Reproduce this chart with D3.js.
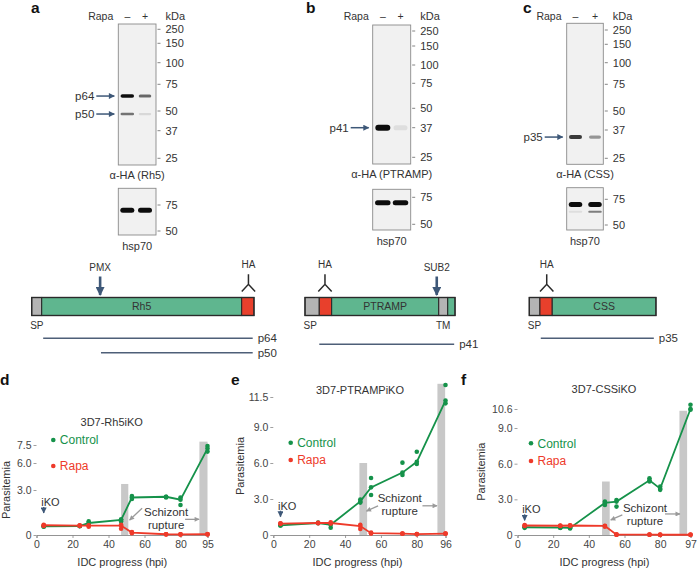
<!DOCTYPE html>
<html><head><meta charset="utf-8">
<script src="https://cdn.jsdelivr.net/npm/d3@7"></script>
<style>
body{margin:0;background:#fff}
svg{display:block}
text{font-family:"Liberation Sans",Arial,sans-serif}
</style>
</head><body>
<svg id="c" width="697" height="570"></svg>
<script>
// ================= DATA =================
// Western blots
const blotLanes = ["–", "+"];
const ladderKDa = [250, 150, 100, 75, 50, 37, 25];
const hspLadderKDa = [75, 50];
const rh5BandNames = ["p64", "p50"];
const rh5BandKDa = [64, 48];
const rh5Minus = [1.0, 0.55];
const rh5Plus = [0.6, 0.1];
const ptrampBandNames = ["p41"];
const ptrampBandKDa = [37];
const ptrampMinus = [1.0];
const ptrampPlus = [0.08];
const cssBandNames = ["p35"];
const cssBandKDa = [34];
const cssMinus = [0.8];
const cssPlus = [0.4];
const hspBandKDa = [70, 63];
const hspMinusA = [1.0, 0], hspPlusA = [1.0, 0];
const hspMinusB = [1.0, 0], hspPlusB = [1.0, 0];
const hspMinusC = [1.0, 0.08], hspPlusC = [1.0, 0.5];

// Protein schematics (residues)
const rh5Length = 523;
const rh5Segments = [["sp", 0, 23.5], ["body", 23.5, 494], ["ha", 494, 523]];
const rh5Cleavage = ["PMX", 161];
const rh5Tag = 510;
const rh5Products = [["p64", 27, 520], ["p50", 163, 520]];
const ptrampLength = 353;
const ptrampSegments = [["sp", 0, 33.6], ["ha", 33.6, 62.7], ["body", 62.7, 314.6], ["tm", 314.6, 335.8], ["body", 335.8, 353]];
const ptrampCleavage = ["SUB2", 310];
const ptrampTag = 47;
const ptrampProducts = [["p41", 33.6, 351]];
const cssLength = 298;
const cssSegments = [["sp", 0, 25], ["ha", 25, 54], ["body", 54, 298]];
const cssTag = 41;
const cssProducts = [["p35", 27, 293]];

// Growth curves (parasitemia %, triplicates)
const hpiD = [4, 24, 29, 47, 53, 72, 80, 95];
const ctrlD1 = [0.6, 0.6, 0.92, 1.05, 2.6, 2.55, 2.5, 7.42];
const ctrlD2 = [0.57, 0.6, 0.8, 1.0, 2.5, 2.55, 2.35, 7.2];
const ctrlD3 = [0.55, 0.58, 0.73, 0.9, 2.4, 2.5, 2.0, 6.95];
const rapaD1 = [0.68, 0.65, 0.65, 0.68, 0.2, 0.05, 0.05, 0.06];
const rapaD2 = [0.65, 0.63, 0.62, 0.63, 0.16, 0.05, 0.04, 0.05];
const rapaD3 = [0.6, 0.6, 0.55, 0.42, 0.12, 0.04, 0.03, 0.04];
const barsD = [[47, 51, 3.67], [90.5, 95, 7.78]];
const xTicksD = [0, 20, 40, 60, 80, 95];
const yTicksD = [0, 3.0, 6.0, 7.5];

const hpiE = [4, 25, 32, 48.5, 54.5, 72, 80, 96];
const ctrlE1 = [0.85, 1.03, 0.95, 2.95, 4.75, 6.03, 6.94, 12.5];
const ctrlE2 = [0.8, 1.0, 0.85, 2.8, 3.97, 5.2, 6.1, 11.2];
const ctrlE3 = [0.8, 0.98, 0.6, 2.7, 3.33, 5.0, 5.92, 10.97];
const rapaE1 = [0.97, 1.02, 1.05, 0.85, 0.2, 0.13, 0.08, 0.13];
const rapaE2 = [0.95, 1.0, 1.0, 0.75, 0.15, 0.12, 0.07, 0.12];
const rapaE3 = [0.93, 0.98, 0.95, 0.5, 0.13, 0.1, 0.06, 0.1];
const barsE = [[48, 52.3, 6.0], [91.5, 95.8, 12.6]];
const xTicksE = [0, 20, 40, 60, 80, 96];
const yTicksE = [0, 3.0, 6.0, 9.0, 11.5];

const hpiF = [4, 24, 29.5, 49, 55.5, 74, 80, 97];
const ctrlF1 = [0.7, 0.63, 0.62, 2.81, 2.95, 4.78, 4.07, 10.96];
const ctrlF2 = [0.65, 0.62, 0.6, 2.7, 2.81, 4.6, 3.9, 10.6];
const ctrlF3 = [0.6, 0.6, 0.55, 2.53, 2.39, 4.5, 3.8, 10.54];
const rapaF1 = [0.84, 0.8, 0.82, 0.78, 0.05, 0.04, 0.03, 0.03];
const rapaF2 = [0.8, 0.78, 0.8, 0.76, 0.03, 0.03, 0.02, 0.02];
const rapaF3 = [0.76, 0.76, 0.78, 0.7, 0.02, 0.02, 0.01, 0.02];
const barsF = [[47.4, 51.7, 4.5], [90.8, 95.1, 10.45]];
const xTicksF = [0, 20, 40, 60, 80, 97];
const yTicksF = [0, 3.0, 6.0, 9.0, 10.6];

const seriesNames = ["Control", "Rapa"];
const chartTitles = ["3D7-Rh5iKO", "3D7-PTRAMPiKO", "3D7-CSSiKO"];

// ================= DRAWING =================
const svg = d3.select("#c");
const TXT = "#333";
const ARROW = "#3e5878";
const GREEN = "#15924a", RED = "#ee3a2a";
const SEG = {sp: "#b4b4b4", body: "#5fb68f", ha: "#e8402c", tm: "#b4b4b4"};

const defs = svg.append("defs");
defs.append("filter").attr("id", "blur").attr("x", "-30%").attr("y", "-100%").attr("width", "160%").attr("height", "300%")
  .append("feGaussianBlur").attr("stdDeviation", 0.7);
function headMarker(id, color, w, h) {
  defs.append("marker").attr("id", id).attr("viewBox", "0 0 10 10").attr("refX", 9).attr("refY", 5)
    .attr("markerWidth", w).attr("markerHeight", h).attr("orient", "auto").attr("markerUnits", "userSpaceOnUse")
    .append("path").attr("d", "M0,0L10,5L0,10z").attr("fill", color);
}
headMarker("ahBlue", ARROW, 7, 6);
headMarker("ahGray", "#9a9a9a", 6, 5);
headMarker("ahBig", ARROW, 9, 9);

// panel letters
[["a", 31, 13], ["b", 306, 13], ["c", 523, 13], ["d", 0, 385], ["e", 231, 385], ["f", 461, 385]].forEach(([t, x, y]) =>
  svg.append("text").attr("x", x).attr("y", y).attr("font-size", 15.5).attr("font-weight", "bold").attr("fill", "#111").text(t));

// ---- blots ----
const blotLayouts = [
  {x0: 118.3, x1: 156, y0: 24, y1: 165, ladder: [29.3, 43.3, 62.7, 84.3, 111, 130.7, 158.3], lanes: [127.3, 145], lw: 13.5,
   hy0: 188.3, hy1: 235, hladder: [205, 231], label: "α-HA (Rh5)", names: rh5BandNames, kda: rh5BandKDa, minus: rh5Minus, plus: rh5Plus, bh: [3.6, 2.6],
   hminus: hspMinusA, hplus: hspPlusA},
  {x0: 372.7, x1: 410.7, y0: 25, y1: 164, ladder: [31, 46, 65, 83.3, 108.3, 127.7, 157.3], lanes: [382.8, 400.5], lw: 15,
   hy0: 189.3, hy1: 230, hladder: [197.3, 224.3], label: "α-HA (PTRAMP)", names: ptrampBandNames, kda: ptrampBandKDa, minus: ptrampMinus, plus: ptrampPlus, bh: [6],
   hminus: hspMinusB, hplus: hspPlusB},
  {x0: 566.7, x1: 603.3, y0: 23.3, y1: 164.3, ladder: [30, 44.3, 62.7, 84.3, 111, 130, 158.3], lanes: [575.5, 595], lw: 13,
   hy0: 187.7, hy1: 230, hladder: [199.3, 225], label: "α-HA (CSS)", names: cssBandNames, kda: cssBandKDa, minus: cssMinus, plus: cssPlus, bh: [4],
   hminus: hspMinusC, hplus: hspPlusC}
];

function drawBand(g, cx, y, w, h, inten) {
  if (inten <= 0) return;
  g.append("rect").attr("x", cx - w / 2).attr("y", y - h / 2).attr("width", w).attr("height", h)
    .attr("rx", h / 2).attr("fill", "#111").attr("opacity", Math.min(1, inten)).attr("filter", "url(#blur)");
}

blotLayouts.forEach(L => {
  const g = svg.append("g");
  const ky = d3.scaleLinear().domain(ladderKDa).range(L.ladder);
  const hy = d3.scaleLinear().domain(hspLadderKDa).range(L.hladder);
  // header
  g.append("text").attr("x", L.lanes[0] - 14).attr("y", 19.5).attr("text-anchor", "end").attr("font-size", 10.5).attr("fill", TXT).text("Rapa");
  blotLanes.forEach((t, i) => g.append("text").attr("x", L.lanes[i]).attr("y", 19.5).attr("text-anchor", "middle").attr("font-size", 10.5).attr("fill", TXT).text(t));
  g.append("text").attr("x", L.x1 + 9.5).attr("y", 19.5).attr("font-size", 11).attr("fill", TXT).text("kDa");
  // main membrane
  g.append("rect").attr("x", L.x0).attr("y", L.y0).attr("width", L.x1 - L.x0).attr("height", L.y1 - L.y0)
    .attr("fill", "#f1f1f1").attr("stroke", "#8a8a8a").attr("stroke-width", 0.9);
  L.kda.forEach((k, i) => {
    drawBand(g, L.lanes[0], ky(k), L.lw, L.bh[i], L.minus[i]);
    drawBand(g, L.lanes[1], ky(k), L.lw - 1, L.bh[i] * 0.85, L.plus[i]);
    const arrX1 = L.x0 - 4, arrX0 = L.x0 - 22;
    g.append("line").attr("x1", arrX0).attr("x2", arrX1).attr("y1", ky(k)).attr("y2", ky(k))
      .attr("stroke", ARROW).attr("stroke-width", 1.5).attr("marker-end", "url(#ahBlue)");
    g.append("text").attr("x", L.x0 - 24).attr("y", ky(k)).attr("dy", "0.36em").attr("text-anchor", "end")
      .attr("font-size", 11.5).attr("fill", TXT).text(L.names[i]);
  });
  ladderKDa.forEach(k => {
    g.append("line").attr("x1", L.x1 + 1.5).attr("x2", L.x1 + 4.5).attr("y1", ky(k)).attr("y2", ky(k)).attr("stroke", "#666").attr("stroke-width", 0.8);
    g.append("text").attr("x", L.x1 + 9.5).attr("y", ky(k)).attr("dy", "0.36em").attr("font-size", 11).attr("fill", TXT).text(k);
  });
  g.append("text").attr("x", (L.x0 + L.x1) / 2).attr("y", L.y1 + 10).attr("dy", "0.36em").attr("text-anchor", "middle")
    .attr("font-size", 11).attr("fill", TXT).text(L.label);
  // hsp70
  g.append("rect").attr("x", L.x0).attr("y", L.hy0).attr("width", L.x1 - L.x0).attr("height", L.hy1 - L.hy0)
    .attr("fill", "#f1f1f1").attr("stroke", "#8a8a8a").attr("stroke-width", 0.9);
  hspBandKDa.forEach((k, i) => {
    const h = i === 0 ? 5 : 2;
    drawBand(g, L.lanes[0], hy(k), L.lw + 0.5, h, L.hminus[i]);
    drawBand(g, L.lanes[1], hy(k), L.lw + 0.5, h, L.hplus[i]);
  });
  hspLadderKDa.forEach(k => {
    g.append("line").attr("x1", L.x1 + 1.5).attr("x2", L.x1 + 4.5).attr("y1", hy(k)).attr("y2", hy(k)).attr("stroke", "#666").attr("stroke-width", 0.8);
    g.append("text").attr("x", L.x1 + 9.5).attr("y", hy(k)).attr("dy", "0.36em").attr("font-size", 11).attr("fill", TXT).text(k);
  });
  g.append("text").attr("x", (L.x0 + L.x1) / 2).attr("y", L.hy1 + 11.5).attr("dy", "0.36em").attr("text-anchor", "middle")
    .attr("font-size", 11).attr("fill", TXT).text("hsp70");
});

// ---- protein schematics ----
const aa = d3.scaleLinear().domain([0, 100]).range([0, 42.5]);
const proteins = [
  {x: 31.7, len: rh5Length, segs: rh5Segments, name: "Rh5", cleave: rh5Cleavage, tag: rh5Tag, prods: rh5Products, prodY: [338.3, 352.7]},
  {x: 305, len: ptrampLength, segs: ptrampSegments, name: "PTRAMP", cleave: ptrampCleavage, tag: ptrampTag, prods: ptrampProducts, prodY: [344.3]},
  {x: 529.3, len: cssLength, segs: cssSegments, name: "CSS", cleave: null, tag: cssTag, prods: cssProducts, prodY: [338.3]}
];
const barY = 297.5, barH = 18;
proteins.forEach(P => {
  const g = svg.append("g");
  const px = r => P.x + aa(r);
  P.segs.forEach(s => {
    g.append("rect").attr("x", px(s[1])).attr("y", barY).attr("width", aa(s[2] - s[1])).attr("height", barH)
      .attr("fill", SEG[s[0]]).attr("stroke", "#2a2a2a").attr("stroke-width", 1.1);
  });
  g.append("rect").attr("x", px(0)).attr("y", barY).attr("width", aa(P.len)).attr("height", barH)
    .attr("fill", "none").attr("stroke", "#2a2a2a").attr("stroke-width", 1.3);
  const body = P.segs.filter(s => s[0] === "body").reduce((a, b) => (b[2] - b[1] > a[2] - a[1] ? b : a));
  g.append("text").attr("x", px((body[1] + body[2]) / 2)).attr("y", barY + barH / 2).attr("dy", "0.36em")
    .attr("text-anchor", "middle").attr("font-size", 10.5).attr("fill", "#333").text(P.name);
  g.append("text").attr("x", px(0) - 1.5).attr("y", 328.5).attr("font-size", 10).attr("fill", "#333").text("SP");
  const tm = P.segs.find(s => s[0] === "tm");
  if (tm) g.append("text").attr("x", px((tm[1] + tm[2]) / 2)).attr("y", 328.5).attr("text-anchor", "middle").attr("font-size", 10).attr("fill", "#333").text("TM");
  // HA tag
  const hx = px(P.tag);
  g.append("path").attr("d", `M${hx},274.3V284.3M${hx - 6.7},291.5L${hx},284.3L${hx + 6.7},291.5`)
    .attr("fill", "none").attr("stroke", "#2a2a2a").attr("stroke-width", 1.5);
  g.append("text").attr("x", hx).attr("y", 268.3).attr("text-anchor", "middle").attr("font-size", 10).attr("fill", "#333").text("HA");
  // cleavage
  if (P.cleave) {
    const cx = px(P.cleave[1]);
    g.append("line").attr("x1", cx).attr("x2", cx).attr("y1", 276.5).attr("y2", 295).attr("stroke", ARROW).attr("stroke-width", 2.6).attr("marker-end", "url(#ahBig)");
    g.append("text").attr("x", cx).attr("y", 271).attr("text-anchor", "middle").attr("font-size", 10).attr("fill", "#333").text(P.cleave[0]);
  }
  P.prods.forEach((p, i) => {
    g.append("line").attr("x1", px(p[1])).attr("x2", px(p[2])).attr("y1", P.prodY[i]).attr("y2", P.prodY[i])
      .attr("stroke", "#4e5f78").attr("stroke-width", 1.5);
    g.append("text").attr("x", px(p[2]) + 5).attr("y", P.prodY[i]).attr("dy", "0.36em").attr("font-size", 11.5).attr("fill", "#333").text(p[0]);
  });
});

// ---- growth curves ----
const charts = [
  {hpi: hpiD, ctrl: [ctrlD1, ctrlD2, ctrlD3], rapa: [rapaD1, rapaD2, rapaD3], bars: barsD, xTicks: xTicksD, yTicks: yTicksD,
   title: chartTitles[0], xMax: 95, xr: [36.5, 207.5], yDom: [0, 3, 6, 7.5], yRng: [535, 490, 463, 445],
   titleXY: [111.7, 421.7], ylabY: 490, ylabX: 6, xlabX: 122.3, leg: [53.3, 440, 466],
   iko: 2.2, ann: {x: 72, y: 1.55, l: [-24, -3.5, -36.5, 8.3], r: [19, 7.6, 33, 7.6]}},
  {hpi: hpiE, ctrl: [ctrlE1, ctrlE2, ctrlE3], rapa: [rapaE1, rapaE2, rapaE3], bars: barsE, xTicks: xTicksE, yTicks: yTicksE,
   title: chartTitles[1], xMax: 96, xr: [273.3, 445.5], yDom: [0, 11.5], yRng: [535, 397],
   titleXY: [360, 390], ylabY: 466, ylabX: 240, xlabX: 357.5, leg: [290.7, 442.7, 460],
   iko: 2.44, ann: {x: 70.5, y: 3.1, l: [-21.7, 8, -33.3, 13.3], r: [22.7, 8, 37.3, 8]}},
  {hpi: hpiF, ctrl: [ctrlF1, ctrlF2, ctrlF3], rapa: [rapaF1, rapaF2, rapaF3], bars: barsF, xTicks: xTicksF, yTicks: yTicksF,
   title: chartTitles[2], xMax: 97, xr: [517.5, 690.5], yDom: [0, 10.6], yRng: [535, 409],
   titleXY: [604, 389.3], ylabY: 471.7, ylabX: 480.7, xlabX: 604.5, leg: [531, 443.3, 461],
   iko: 2.16, ann: {x: 71.5, y: 2.3, l: [-22.7, 7.3, -34.3, 12.3], r: [20, 6.3, 35, 6.3]}}
];

charts.forEach(C => {
  const g = svg.append("g");
  const x = d3.scaleLinear().domain([0, C.xMax]).range(C.xr);
  const y = d3.scaleLinear().domain(C.yDom).range(C.yRng);
  // rupture bars
  g.selectAll(".rb").data(C.bars).join("rect")
    .attr("x", d => x(d[0])).attr("width", d => x(d[1]) - x(d[0]))
    .attr("y", d => y(d[2])).attr("height", d => y(0) - y(d[2])).attr("fill", "#c8c8c8");
  // axes
  const xa = g.append("g").attr("transform", `translate(0,${y(0)})`)
    .call(d3.axisBottom(x).tickValues(C.xTicks).tickSize(3).tickPadding(3).tickFormat(d3.format("d")));
  const ya = g.append("g").attr("transform", `translate(${C.xr[0]},0)`)
    .call(d3.axisLeft(y).tickValues(C.yTicks).tickSize(3).tickPadding(2).tickFormat(d => d === 0 ? "0" : d.toFixed(1)));
  ya.select(".domain").remove();
  [xa, ya].forEach(a => {
    a.selectAll(".domain").attr("stroke", "#888").attr("stroke-width", 0.9);
    a.selectAll(".tick line").attr("stroke", "#888").attr("stroke-width", 0.8);
    a.selectAll(".tick text").attr("fill", "#444").attr("font-size", 10.5).attr("font-family", "Liberation Sans, Arial, sans-serif");
  });
  // labels
  g.append("text").attr("x", C.titleXY[0]).attr("y", C.titleXY[1]).attr("dy", "0.36em").attr("text-anchor", "middle")
    .attr("font-size", 11).attr("fill", TXT).text(C.title);
  g.append("text").attr("transform", `translate(${C.ylabX},${C.ylabY}) rotate(-90)`).attr("dy", "0.36em")
    .attr("text-anchor", "middle").attr("font-size", 11).attr("fill", TXT).text("Parasitemia");
  g.append("text").attr("x", C.xlabX).attr("y", 561.7).attr("dy", "0.36em").attr("text-anchor", "middle")
    .attr("font-size", 11).attr("fill", TXT).text("IDC progress (hpi)");
  // annotation
  const ax = x(C.ann.x), ay = y(C.ann.y);
  g.append("text").attr("x", ax).attr("y", ay).attr("dy", "0.36em").attr("text-anchor", "middle").attr("font-size", 11.5).attr("fill", TXT).text("Schizont");
  g.append("text").attr("x", ax).attr("y", ay + 12.8).attr("dy", "0.36em").attr("text-anchor", "middle").attr("font-size", 11.5).attr("fill", TXT).text("rupture");
  const l = C.ann.l, r = C.ann.r;
  g.append("line").attr("x1", ax + l[0]).attr("y1", ay + l[1]).attr("x2", ax + l[2]).attr("y2", ay + l[3])
    .attr("stroke", "#9a9a9a").attr("stroke-width", 1.3).attr("marker-end", "url(#ahGray)");
  g.append("line").attr("x1", ax + r[0]).attr("y1", ay + r[1]).attr("x2", ax + r[2]).attr("y2", ay + r[3])
    .attr("stroke", "#9a9a9a").attr("stroke-width", 1.3).attr("marker-end", "url(#ahGray)");
  // iKO
  const ix = x(C.hpi[0]), iy = y(C.iko);
  g.append("text").attr("x", ix - 2.5).attr("y", iy).attr("dy", "0.36em").attr("font-size", 11).attr("fill", TXT).text("iKO");
  g.append("line").attr("x1", ix).attr("x2", ix).attr("y1", iy + 5).attr("y2", iy + 11)
    .attr("stroke", ARROW).attr("stroke-width", 1.4).attr("marker-end", "url(#ahBlue)");
  // series
  [[C.ctrl, GREEN], [C.rapa, RED]].forEach(([reps, col]) => {
    const med = C.hpi.map((h, i) => d3.median(reps, r => r[i]));
    g.append("path").datum(med).attr("fill", "none").attr("stroke", col).attr("stroke-width", 1.8)
      .attr("d", d3.line().x((d, i) => x(C.hpi[i])).y(d => y(d)));
    reps.forEach(rep => {
      g.selectAll(null).data(rep).join("circle").attr("cx", (d, i) => x(C.hpi[i])).attr("cy", d => y(d))
        .attr("r", 2.3).attr("fill", col);
    });
  });
  // legend
  seriesNames.forEach((n, i) => {
    const col = i === 0 ? GREEN : RED;
    g.append("circle").attr("cx", C.leg[0]).attr("cy", C.leg[1 + i]).attr("r", 2.3).attr("fill", col);
    g.append("text").attr("x", C.leg[0] + 6.5).attr("y", C.leg[1 + i]).attr("dy", "0.36em").attr("font-size", 12).attr("fill", col).text(n);
  });
});
</script>
</body></html>
